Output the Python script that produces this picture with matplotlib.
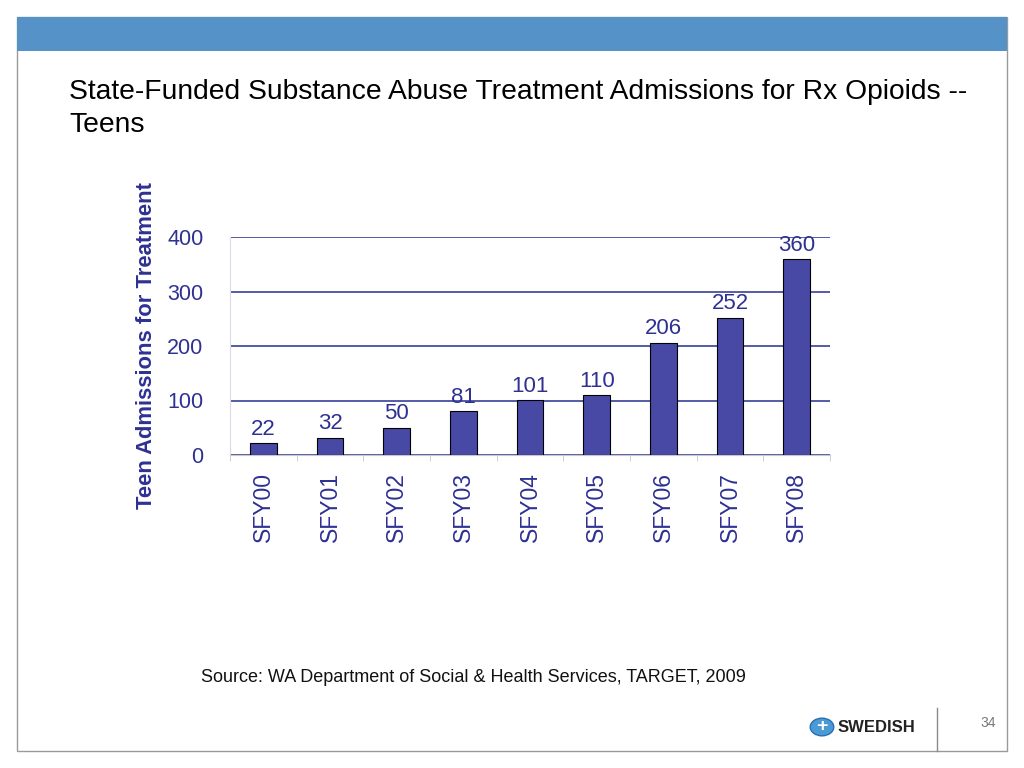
import matplotlib
matplotlib.use("Agg")
import matplotlib.pyplot as plt
from matplotlib.patches import Rectangle, Circle
from matplotlib.lines import Line2D

categories = ["SFY00", "SFY01", "SFY02", "SFY03", "SFY04", "SFY05", "SFY06", "SFY07", "SFY08"]
values = [22, 32, 50, 81, 101, 110, 206, 252, 360]
yticks = [0, 100, 200, 300, 400]

plt.rcParams['font.family'] = ['Liberation Sans', 'DejaVu Sans']
navy = '#2e3192'
barc = '#4749a5'

fig = plt.figure(figsize=(10.24, 7.68), dpi=100)
W, H = 1024, 768

def fx(x): return x / W
def fy(y): return 1 - y / H

# slide frame
fig.patches.append(Rectangle((fx(17), fy(751)), fx(1007) - fx(17), fy(17) - fy(751),
                             transform=fig.transFigure, fill=False, edgecolor='#9a9a9a', lw=1))
fig.patches.append(Rectangle((fx(17), fy(51)), fx(1007) - fx(17), fy(17) - fy(51),
                             transform=fig.transFigure, facecolor='#5592c8', edgecolor='none'))

fig.text(fx(69), fy(92), "State-Funded Substance Abuse Treatment Admissions for Rx Opioids --",
         fontsize=20.3, color='black', va='center', ha='left')
fig.text(fx(69), fy(125), "Teens", fontsize=20.3, color='black', va='center', ha='left')

ax = fig.add_axes([fx(230), fy(455), fx(830) - fx(230), fy(237) - fy(455)])
x = range(len(categories))
ax.bar(x, values, width=0.4, color=barc, edgecolor='black', linewidth=0.8, zorder=3)
for i, v in zip(x, values):
    ax.text(i, v + 6, str(v), ha='center', va='bottom', fontsize=16, color=navy)
ax.set_xlim(-0.5, len(categories) - 0.5)
ax.set_ylim(0, 400)
ax.set_yticks(yticks)
ax.set_yticklabels([str(t) for t in yticks], fontsize=15.5, color=navy)
ax.yaxis.grid(True, color='#3a3f9a', lw=1.2, zorder=0)
ax.set_axisbelow(True)
ax.set_xticks(list(x))
ax.set_xticklabels(categories, rotation=90, fontsize=16.5, color=navy)
ax.tick_params(axis='y', length=0, pad=19)
ax.tick_params(axis='x', length=0, pad=12)
for s in ['top', 'right']:
    ax.spines[s].set_visible(False)
ax.spines['left'].set_color('#dcdce6')
ax.spines['bottom'].set_color('#c8c8c8')
ax.set_ylabel("Teen Admissions for Treatment", fontsize=15.8, fontweight='bold', color=navy)
ax.yaxis.set_label_coords(-0.121, 0.502)
# minor separator ticks on x axis
ax.set_xticks([i + 0.5 for i in range(-1, len(categories))], minor=True)
ax.tick_params(axis='x', which='minor', length=4, color='#c8c8c8')

fig.text(fx(201), fy(678), "Source: WA Department of Social & Health Services, TARGET, 2009",
         fontsize=13, color='#111111', va='center', ha='left')

# footer
fig.lines.append(Line2D([fx(937), fx(937)], [fy(708), fy(751)], transform=fig.transFigure,
                        color='#8a8a8a', lw=1))
fig.text(fx(996), fy(723), "34", fontsize=10, color='#777777', ha='right', va='center')
fig.patches.append(Circle((fx(822), fy(727)), 0.0115, transform=fig.transFigure,
                          facecolor='#4a9ad6', edgecolor='#2a6fb0', lw=1))
fig.text(fx(822), fy(727), "+", fontsize=14, fontweight='bold', color='white', ha='center', va='center')
fig.text(fx(838), fy(727), "SWEDISH", fontsize=12, fontweight='bold', color='#222222',
         ha='left', va='center')

fig.savefig("out.png", dpi=100)
